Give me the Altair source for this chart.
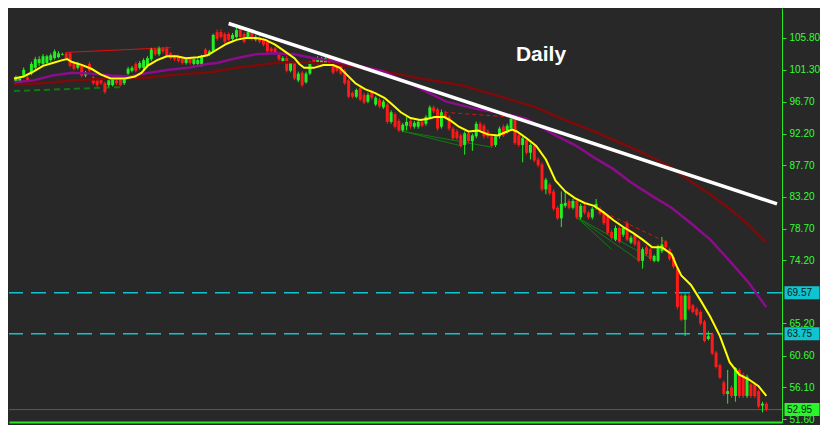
import altair as alt
import pandas as pd

# ---------------- data ----------------
opens = [
    99.35, 99.35, 100.45, 100.17, 100.72, 101.55, 102.23, 102.10, 102.23, 102.64,
    102.92, 103.06, 103.40, 103.60, 103.60, 102.10, 101.55, 101.82, 100.45, 102.10,
    100.17, 99.76, 99.90, 99.35, 99.08, 99.08, 99.76, 99.90, 99.35, 100.72,
    101.13, 102.10, 101.55, 101.55, 101.82, 102.78, 104.15, 103.47, 104.29, 104.29,
    103.60, 103.19, 103.19, 102.92, 102.23, 102.92, 102.10, 102.10, 101.96, 104.15,
    103.47, 103.88, 106.62, 106.62, 106.35, 106.35, 105.66, 105.93, 107.04, 106.35,
    105.93, 106.62, 105.53, 105.93, 105.53, 105.25, 104.29, 104.29, 103.47, 102.51,
    102.92, 101.13, 102.23, 99.76, 100.86, 99.49, 100.72, 102.78, 102.23, 102.23,
    102.23, 102.92, 102.10, 102.10, 101.82, 101.13, 99.76, 97.98, 97.43, 98.66,
    97.70, 96.74, 98.12, 96.33, 97.02, 95.92, 96.33, 93.86, 94.96, 94.00,
    92.63, 93.31, 94.00, 93.18, 93.18, 93.86, 93.59, 94.55, 95.92, 95.65,
    93.18, 94.96, 94.55, 92.90, 92.49, 91.94, 90.57, 92.22, 91.12, 91.80,
    93.59, 93.31, 92.49, 91.80, 90.57, 91.80, 93.18, 92.49, 92.90, 94.55,
    91.94, 90.57, 91.25, 89.47, 90.43, 88.51, 87.82, 84.26, 84.94, 83.98,
    81.65, 80.14, 81.92, 82.61, 81.65, 82.61, 80.28, 81.92, 80.96, 80.28,
    81.65, 81.51, 80.96, 80.55, 78.22, 77.12, 78.77, 77.81, 79.45, 76.71,
    77.81, 76.85, 74.10, 76.02, 75.75, 74.10, 74.10, 75.48, 76.85, 75.75,
    74.65, 73.00, 69.16, 65.73, 69.16, 67.79, 67.24, 66.83, 65.46, 62.99,
    63.67, 61.07, 59.28, 56.81, 55.17, 56.12, 54.89, 58.60, 57.91, 54.89,
    56.54, 56.54, 55.58, 53.52, 53.79,
]
highs = [
    100.45, 100.30, 101.60, 100.50, 102.40, 103.10, 103.19, 103.50, 103.40, 103.60,
    104.15, 103.90, 103.70, 103.80, 103.80, 102.30, 102.40, 102.10, 101.10, 102.40,
    100.40, 100.00, 100.10, 99.60, 100.00, 100.20, 100.00, 100.10, 100.30, 101.70,
    101.80, 102.40, 102.50, 102.90, 103.20, 104.40, 104.40, 104.60, 104.50, 104.60,
    103.80, 103.40, 103.40, 103.10, 103.00, 103.10, 103.00, 102.90, 103.40, 104.40,
    104.10, 106.40, 107.00, 107.00, 106.60, 106.60, 106.50, 107.20, 107.30, 106.60,
    106.90, 106.90, 106.20, 106.20, 105.80, 105.50, 104.50, 104.50, 103.70, 103.20,
    103.20, 102.50, 102.50, 101.00, 101.10, 101.00, 102.50, 103.00, 103.20, 103.10,
    103.10, 103.10, 102.30, 102.30, 102.00, 101.40, 100.00, 98.20, 98.60, 98.90,
    98.00, 98.00, 98.40, 97.50, 97.30, 97.00, 96.60, 95.50, 95.20, 94.30,
    93.70, 94.55, 94.30, 94.00, 94.10, 94.10, 94.80, 96.20, 96.20, 95.90,
    95.60, 95.40, 94.80, 93.20, 92.80, 92.20, 92.50, 92.50, 92.20, 93.90,
    93.90, 93.60, 92.80, 92.10, 92.10, 93.20, 93.50, 93.60, 94.60, 94.80,
    92.20, 91.80, 91.50, 90.80, 90.70, 88.80, 88.10, 85.90, 85.20, 84.30,
    81.90, 83.98, 83.98, 82.90, 82.90, 82.90, 82.20, 82.20, 81.20, 81.80,
    82.90, 81.80, 81.20, 80.80, 78.50, 79.10, 79.00, 79.00, 79.80, 77.70,
    78.10, 77.10, 76.00, 76.30, 76.00, 75.00, 76.40, 77.50, 77.10, 76.00,
    74.90, 73.30, 69.40, 69.40, 69.40, 68.00, 67.50, 67.10, 65.70, 64.09,
    63.90, 61.30, 59.50, 57.10, 58.60, 56.40, 59.00, 58.90, 58.20, 57.90,
    56.80, 56.80, 55.80, 54.07, 54.00,
]
lows = [
    99.08, 99.20, 100.20, 99.50, 100.50, 101.30, 101.82, 101.80, 102.00, 102.40,
    102.70, 102.90, 103.30, 102.70, 101.60, 101.20, 101.30, 100.20, 100.20, 100.90,
    99.10, 98.80, 99.10, 97.85, 98.80, 98.90, 99.10, 98.90, 99.10, 100.50,
    100.90, 100.90, 101.30, 101.30, 101.60, 102.50, 103.20, 103.20, 103.60, 103.00,
    102.70, 102.50, 102.30, 102.00, 102.00, 102.00, 101.90, 101.90, 101.70, 103.20,
    103.20, 103.70, 105.40, 105.70, 105.00, 105.30, 105.40, 105.70, 105.70, 105.00,
    105.70, 105.40, 105.30, 105.00, 104.60, 103.60, 103.60, 103.40, 102.50, 102.30,
    100.90, 100.90, 99.80, 99.50, 98.80, 99.30, 100.50, 102.00, 102.00, 102.00,
    102.00, 102.00, 100.60, 100.90, 100.50, 99.10, 97.20, 97.20, 97.20, 96.80,
    96.40, 96.50, 97.00, 96.10, 95.80, 95.70, 93.60, 93.60, 92.90, 92.40,
    92.40, 92.63, 92.90, 92.90, 92.90, 93.10, 93.30, 94.30, 95.10, 92.60,
    92.90, 94.30, 92.60, 91.30, 91.30, 90.20, 89.20, 90.90, 89.74, 91.50,
    92.40, 91.50, 91.50, 90.20, 90.30, 91.50, 91.70, 92.20, 92.60, 90.60,
    90.30, 88.10, 89.20, 88.51, 88.10, 87.40, 84.00, 83.57, 83.40, 81.20,
    79.90, 78.90, 81.65, 81.40, 81.40, 80.00, 80.00, 80.70, 80.00, 80.00,
    81.40, 80.60, 79.20, 77.80, 77.10, 76.90, 76.60, 77.50, 76.90, 76.50,
    76.20, 73.90, 73.00, 74.80, 74.10, 73.90, 73.90, 75.20, 75.80, 74.10,
    73.00, 67.20, 65.50, 63.40, 67.00, 66.60, 66.20, 64.90, 62.50, 62.80,
    60.70, 58.80, 57.30, 54.90, 53.79, 54.60, 54.07, 54.60, 54.60, 54.60,
    54.60, 54.60, 53.10, 52.56, 52.70,
]
closes = [
    100.17, 100.04, 101.27, 99.76, 102.10, 102.78, 102.78, 103.19, 103.19, 103.33,
    103.88, 103.60, 103.50, 102.92, 101.82, 101.41, 102.10, 100.45, 100.86, 101.13,
    99.35, 99.08, 99.35, 98.12, 99.76, 99.90, 99.35, 99.08, 100.04, 101.41,
    101.55, 101.13, 102.23, 102.64, 102.92, 104.15, 103.47, 104.29, 103.88, 103.19,
    102.92, 102.78, 102.51, 102.23, 102.78, 102.23, 102.78, 102.64, 103.19, 103.47,
    103.88, 106.21, 105.66, 105.93, 105.25, 105.53, 106.21, 106.90, 105.93, 105.25,
    106.62, 105.66, 105.93, 105.25, 104.84, 103.88, 103.88, 103.60, 102.78, 102.92,
    101.13, 102.23, 100.04, 100.72, 99.08, 100.72, 102.23, 102.23, 102.92, 102.92,
    102.92, 102.23, 100.86, 101.13, 100.72, 99.35, 97.43, 97.43, 98.39, 97.02,
    96.61, 97.70, 97.29, 97.29, 96.06, 96.74, 93.86, 95.23, 93.18, 92.63,
    93.45, 93.86, 93.18, 93.72, 93.86, 93.31, 94.55, 95.92, 95.37, 92.90,
    95.23, 94.55, 92.90, 91.53, 91.53, 90.43, 92.22, 91.12, 91.94, 93.59,
    92.63, 91.80, 91.80, 90.43, 91.80, 92.90, 91.94, 93.31, 94.27, 90.84,
    90.57, 91.53, 89.47, 90.57, 88.37, 87.69, 84.26, 85.63, 83.71, 81.51,
    80.14, 82.20, 82.34, 81.65, 82.61, 80.28, 81.92, 80.96, 80.28, 81.51,
    82.20, 80.83, 79.45, 78.08, 77.40, 78.77, 76.85, 78.77, 77.12, 77.40,
    76.44, 74.10, 75.75, 75.06, 74.38, 74.79, 76.16, 76.44, 76.02, 74.38,
    73.28, 67.52, 65.73, 69.16, 67.24, 66.83, 66.42, 65.18, 62.71, 63.40,
    60.93, 59.01, 57.50, 55.17, 55.58, 54.89, 58.87, 54.89, 54.89, 57.64,
    54.89, 54.89, 53.38, 53.79, 52.95,
]

# moving averages (bar index, price)
yellow_idx = [-0.5, 2, 4.5, 7, 9.5, 12, 13.25, 14.5, 17, 19.5, 22, 24.5, 28.25, 30.75, 32.5,
              34, 36.5, 39, 41.5, 44, 47, 49.5, 52, 54.5, 57, 59.5, 62, 64.5, 67, 69.5,
              72, 73.25, 74.5, 77, 79.5, 82, 83.75, 85.25, 87.75, 90.25, 92.75, 95.25, 97,
              99.5, 102, 104.5, 106.25, 108.25, 110.75, 112.5, 114.5, 117, 119.5, 122,
              124.5, 127, 128.25, 129.5, 132, 134.5, 137, 139.5, 142, 144.5, 147, 149.5,
              152, 154.5, 157, 159.5, 162, 164.5, 167, 169.5, 170.75, 172, 174.5, 177,
              179.5, 182, 184.5, 187, 189.5, 192, 194]
yellow_val = [100.03, 100.31, 100.99, 101.82, 102.23, 102.64, 102.78, 102.37, 101.96, 101.41,
              100.58, 100.03, 100.03, 100.31, 100.86, 101.82, 102.64, 103.19, 103.19, 102.92,
              103.06, 103.33, 104.15, 104.97, 105.52, 105.80, 105.80, 105.52, 104.84, 103.88,
              102.92, 102.09, 101.54, 101.54, 101.95, 101.95, 101.54, 100.72, 99.35, 98.52,
              97.98, 97.29, 96.47, 95.23, 94.41, 94.13, 94.27, 94.55, 94.55, 94.00, 93.17,
              92.49, 92.63, 92.08, 91.94, 92.49, 92.76, 92.49, 91.53, 90.43, 88.51, 85.49,
              83.98, 83.02, 82.33, 81.92, 80.96, 79.87, 78.91, 78.08, 77.12, 76.02, 76.02,
              75.06, 73.42, 72.04, 70.67, 68.48, 66.14, 63.40, 59.70, 57.91, 57.23, 56.27,
              54.89]
purple_idx = [-0.5, 4.5, 9.5, 14.5, 19.5, 24.5, 29.5, 34.5, 39.5, 44.5, 49.5, 52, 57, 62, 67,
              72, 77, 82, 94.5, 102.75, 111.25, 119.5, 127, 132, 139.5, 144.5, 149.5, 154.5,
              158.75, 164.5, 169.5, 174.5, 179.5, 184.5, 189.5, 194]
purple_val = [99.49, 99.76, 100.45, 100.86, 100.72, 100.45, 100.31, 100.86, 101.27, 101.54,
              102.09, 102.23, 102.92, 103.46, 103.60, 103.46, 102.92, 102.50, 101.13, 99.07,
              96.74, 95.64, 94.96, 94.27, 91.94, 90.57, 88.78, 87.14, 85.35, 83.30, 81.65,
              79.45, 77.12, 74.10, 70.95, 67.52]
darkred_idx = [-0.5, 7, 14.5, 24.5, 34.5, 39.5, 44.5, 49.5, 57, 67, 72, 82, 92, 97, 104.5,
               115.25, 123.75, 127.75, 134.5, 139.5, 149.5, 162, 169.5, 174.5, 179.5, 184.5,
               189.5, 194]
darkred_val = [99.21, 99.35, 99.76, 100.03, 100.17, 100.45, 100.72, 100.86, 101.54, 102.23,
               102.37, 102.09, 101.41, 100.86, 100.03, 99.07, 97.70, 97.02, 95.92, 94.68,
               92.49, 89.47, 87.41, 85.35, 83.57, 81.51, 79.18, 76.71]

# white trend line
trend_idx = [55, 196.75]
trend_val = [107.85, 82.20]

# drawn annotation segments: (segment id, bar index, price)
red_solid = {"seg": ["a", "a"], "i": [13, 40], "p": [103.74, 104.42]}
green_dash = {"seg": ["b", "b"], "i": [-0.5, 27], "p": [98.25, 98.80]}
red_dash = {"seg": ["c", "c", "d", "d"], "i": [110.75, 127.75, 153.75, 167.75],
            "p": [95.23, 94.55, 80.55, 76.85]}
green_thin = {"seg": ["e", "e", "f", "f", "g", "g", "h", "h", "k", "k"],
              "i": [100.25, 115.25, 100.25, 122.75, 145, 161.25, 145, 154, 145, 164.5],
              "p": [92.49, 90.43, 92.49, 90.29, 80.28, 74.10, 80.28, 75.75, 80.28, 74.38]}

level_prices = [69.57, 63.75]
last_price = [52.95]
box_prices = [69.57, 63.75, 52.95]
box_labels = ["69.57", "63.75", "52.95"]
box_colors = ["#10c4cf", "#10c4cf", "#2af52a"]
tick_values = [105.80, 101.30, 96.70, 92.20, 87.70, 83.20, 78.70, 74.20, 65.20, 60.60, 56.10, 51.60]
title_text = ["Daily"]

# ---------------- styling ----------------
BG = "#282828"
AXIS_GREEN = "#28e628"
UP = "#22ee22"
DOWN = "#ff1a1a"
W, H = 773, 414

xs = alt.Scale(domain=[-0.5, 196.75], nice=False, zero=False)
ys = alt.Scale(domain=[51.19, 110.05], nice=False, zero=False)
xaxis = alt.Axis(labels=False, ticks=False, grid=False, title=None,
                 domainColor=AXIS_GREEN, domainWidth=2)
yaxis = alt.Axis(orient="right", values=tick_values, format=".2f", grid=False, title=None,
                 labelColor="#33ff33", labelFont="Liberation Sans", labelFontSize=10,
                 tickColor=AXIS_GREEN, tickSize=4, domainColor=AXIS_GREEN, domainWidth=1,
                 labelPadding=3, labelOverlap=False)


def X(field):
    return alt.X(field, type="quantitative", scale=xs, axis=xaxis)


def Y(field):
    return alt.Y(field, type="quantitative", scale=ys, axis=yaxis)


candles = pd.DataFrame({"i": list(range(len(closes))), "open": opens, "high": highs,
                        "low": lows, "close": closes})
candles["dir"] = ["up" if c >= o else "down" for o, c in zip(opens, closes)]
ccolor = alt.Color("dir:N", scale=alt.Scale(domain=["up", "down"], range=[UP, DOWN]), legend=None)

wicks = alt.Chart(candles).mark_rule(strokeWidth=1).encode(
    x=X("i"), y=Y("low"), y2="high", color=ccolor)
bodies = alt.Chart(candles).mark_bar(size=3).encode(
    x=X("i"), y=Y("open"), y2="close", color=ccolor)


def ma(idx, val, color, width):
    df = pd.DataFrame({"i": idx, "p": val})
    return alt.Chart(df).mark_line(color=color, strokeWidth=width, interpolate="linear").encode(
        x=X("i"), y=Y("p"))


yellow = ma(yellow_idx, yellow_val, "#ffff00", 2)
purple = ma(purple_idx, purple_val, "#8c0c8c", 2.5)
darkred = ma(darkred_idx, darkred_val, "#7e0a0a", 2.5)
trend = ma(trend_idx, trend_val, "#ffffff", 3.5)


def segs(d, color, width, dash=None):
    kw = dict(color=color, strokeWidth=width)
    if dash:
        kw["strokeDash"] = dash
    return alt.Chart(pd.DataFrame(d)).mark_line(**kw).encode(
        x=X("i"), y=Y("p"), detail="seg:N")


ann_red = segs(red_solid, "#e01010", 1)
ann_gdash = segs(green_dash, "#0d7a0d", 2, [6, 4])
ann_rdash = segs(red_dash, "#e01010", 1, [4, 3])
ann_green = segs(green_thin, "#127a12", 1)

levels = alt.Chart(pd.DataFrame({"price": level_prices})).mark_rule(
    color="#10c4cf", strokeWidth=1.5, strokeDash=[15, 8]).encode(y=Y("price"))
lastline = alt.Chart(pd.DataFrame({"price": last_price})).mark_rule(
    color="#5c5c5c", strokeWidth=1).encode(y=Y("price"))

boxes_df = pd.DataFrame({"price": box_prices, "label": box_labels, "col": box_colors})
boxes = alt.Chart(boxes_df).mark_tick(orient="horizontal", size=35, thickness=13, opacity=1).encode(
    x=alt.value(W + 20), y=Y("price"), color=alt.Color("col:N", scale=None))
box_text = alt.Chart(boxes_df).mark_text(
    align="left", baseline="middle", font="Liberation Sans", fontSize=10, color="#0c1a1a").encode(
    x=alt.value(W + 5), y=Y("price"), text="label:N")

daily = alt.Chart(pd.DataFrame({"t": title_text})).mark_text(
    font="Liberation Sans", fontWeight="bold", fontSize=21, color="#ffffff",
    align="center", baseline="middle").encode(
    x=alt.value(532), y=alt.value(47), text="t:N")

chart = alt.layer(
    levels, lastline, ann_gdash, ann_red, ann_rdash, ann_green,
    wicks, bodies, darkred, purple, yellow, trend, boxes, box_text, daily
).properties(
    width=W, height=H, background=BG, padding=0
).configure_view(stroke=None)

chart.save("out.html", embed_options={"renderer": "svg", "actions": False})
